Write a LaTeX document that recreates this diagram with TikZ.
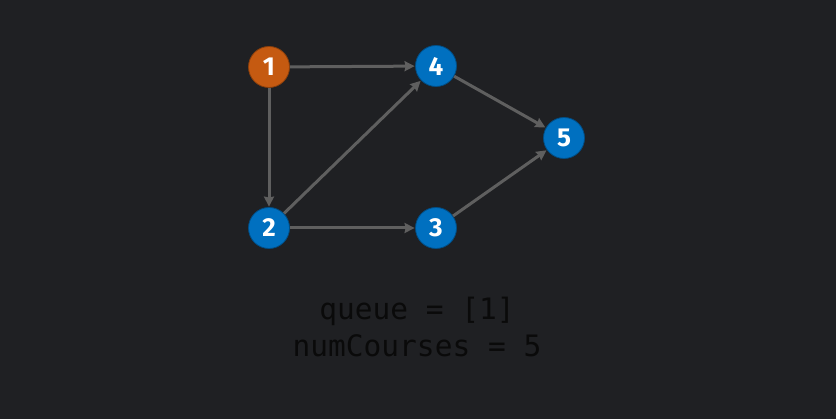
\documentclass[tikz,border=0pt]{standalone}
\usepackage{fontspec}
\setmainfont{Fira Sans}
\setmonofont{DejaVu Sans Mono}
\usetikzlibrary{arrows.meta}
\definecolor{bg}{RGB}{31,32,35}
\definecolor{orangenode}{RGB}{197,90,17}
\definecolor{bluenode}{RGB}{0,112,192}
\definecolor{edgegray}{RGB}{95,95,95}
\definecolor{textdark}{RGB}{10,10,10}
\tikzset{
  vertex/.style={circle, minimum size=41pt, inner sep=0pt, draw=#1!70!black, line width=0.8pt, fill=#1, text=white, font=\bfseries\fontsize{26}{26}\selectfont},
  edge/.style={draw=edgegray, line width=3pt, -{Stealth[length=10pt,width=10pt,inset=1pt]}, shorten >=0.5pt},
  codetext/.style={text=textdark, font=\ttfamily\fontsize{29.5}{29.5}\selectfont}
}
\begin{document}
\begin{tikzpicture}[x=1pt,y=-1pt]
\fill[bg] (0,0) rectangle (836,419);
\useasboundingbox (0,0) rectangle (836,419);
\node[vertex=orangenode] (n1) at (269,67) {1};
\node[vertex=bluenode] (n4) at (436,66) {4};
\node[vertex=bluenode] (n2) at (269,228) {2};
\node[vertex=bluenode] (n3) at (436,228) {3};
\node[vertex=bluenode] (n5) at (564,138) {5};
\draw[edge] (n1) -- (n4);
\draw[edge] (n1) -- (n2);
\draw[edge] (n2) -- (n4);
\draw[edge] (n2) -- (n3);
\draw[edge] (n4) -- (n5);
\draw[edge] (n3) -- (n5);
\node[codetext] (q) at (417,311) {queue = [1]};
\node[codetext] (nc) at (417,346) {numCourses = 5};
\end{tikzpicture}
\end{document}
